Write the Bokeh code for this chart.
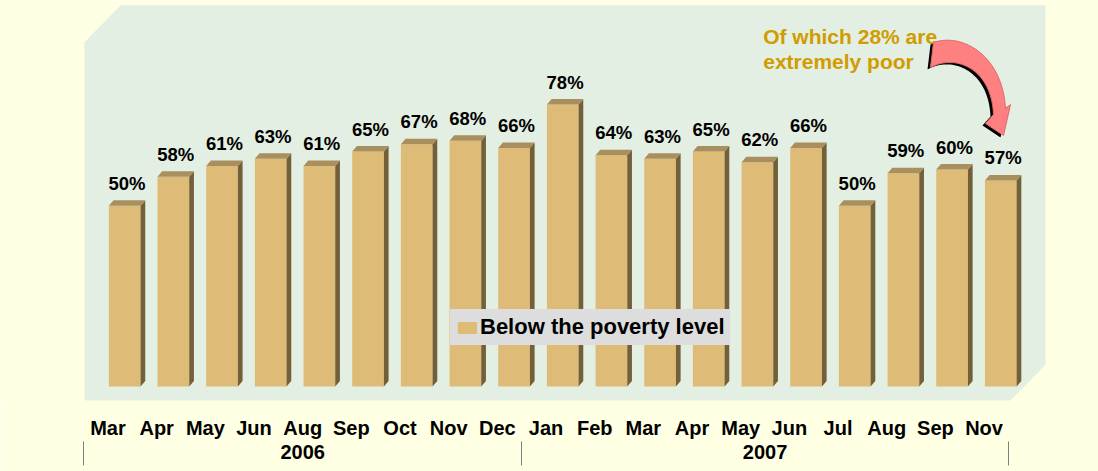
import numpy as np
from bokeh.plotting import figure
from bokeh.models import Range1d, FixedTicker, LinearAxis, Legend, LegendItem
from bokeh.core.properties import value
from bokeh.embed import file_html
from bokeh.resources import INLINE

# ---------------- data ----------------
months = ["Mar", "Apr", "May", "Jun", "Aug", "Sep", "Oct", "Nov", "Dec",
          "Jan", "Feb", "Mar", "Apr", "May", "Jun", "Jul", "Aug", "Sep", "Nov"]
years = ["2006", "2007"]
year_counts = [9, 10]
poverty = [50, 58, 61, 63, 61, 65, 67, 68, 66, 78, 64, 63, 65, 62, 66, 50, 59, 60, 57]
series_name = "Below the poverty level"
annotation = ["Of which 28% are", "extremely poor"]

# ---------------- layout helpers (canvas pixels -> data) ----------------
X0_PX, STEP_PX = 124.2, 48.67
Y0_PX, PX_PER_PCT = 386.0, 3.615
W, H = 1098, 471
FRAME_BOTTOM_PX = 400.0
TEXT_SHIFT = 7.5   # px correction for the svg text baseline


def px2x(px):
    return (px - X0_PX) / STEP_PX


def py2y(py):
    return (Y0_PX - py) / PX_PER_PCT


FONT = "Liberation Sans"
BG = "#FFFFE3"
WALL = "#E3EFE2"
FRONT = "#DEBB77"
SIDE = "#736039"
TOP = "#A98F5D"

p = figure(width=W, height=H, output_backend="svg", toolbar_location=None,
           x_range=Range1d(px2x(0), px2x(W)),
           y_range=Range1d(py2y(FRAME_BOTTOM_PX), py2y(0)),
           y_axis_location=None, min_border_left=0, min_border_right=0,
           min_border_top=0, min_border_bottom=int(H - FRAME_BOTTOM_PX))
p.background_fill_color = BG
p.border_fill_color = BG
p.outline_line_color = None
p.xgrid.visible = False
p.ygrid.visible = False

# back wall / floor of the 3-D box
wall_px = [(84, 41.7), (120, 4.7), (1045, 4.7), (1045, 364.3),
           (1009.3, 400.7), (84, 400.7)]
p.patch([px2x(a) for a, b in wall_px], [py2y(b) for a, b in wall_px],
        fill_color=WALL, line_color=None)

# ---------------- bars ----------------
n = len(poverty)
xs = np.arange(n, dtype=float)
vals = np.array(poverty, dtype=float)
half = 31.7 / STEP_PX / 2
ddx = 4.7 / STEP_PX
ddy = 5.5 / PX_PER_PCT

front = p.quad(left=xs - half, right=xs + half, bottom=0, top=vals,
               fill_color=FRONT, line_color=None)
side_x = [[x + half, x + half + ddx, x + half + ddx, x + half] for x in xs]
side_y = [[0, ddy, v + ddy, v] for v in vals]
p.patches(side_x, side_y, fill_color=SIDE, line_color=None)
top_x = [[x - half, x + half, x + half + ddx, x - half + ddx] for x in xs]
top_y = [[v, v, v + ddy, v + ddy] for v in vals]
p.patches(top_x, top_y, fill_color=TOP, line_color=None)

p.text(x=xs + ddx / 2, y=vals + (15 + TEXT_SHIFT) / PX_PER_PCT,
       text=[f"{v}%" for v in poverty],
       text_font=value(FONT), text_font_style="bold", text_font_size="18.5px",
       text_align="center", text_baseline="alphabetic", text_color="black")

# ---------------- axes ----------------
label_off = 16.7 / STEP_PX
tick_pos = [round(i - label_off, 4) for i in range(n)]
ax = p.xaxis[0]
ax.ticker = FixedTicker(ticks=tick_pos, minor_ticks=[])
ax.major_label_overrides = {t: m for t, m in zip(tick_pos, months)}
ax.major_label_text_font = FONT
ax.major_label_text_font_style = "bold"
ax.major_label_text_font_size = "20px"
ax.major_label_text_color = "black"
ax.major_tick_line_color = None
ax.minor_tick_line_color = None
ax.axis_line_color = None
ax.major_label_standoff = 10

seps, mids = [], []
start = 0
for c in year_counts:
    a = tick_pos[start] - 0.5
    b = tick_pos[start + c - 1] + 0.5
    if not seps:
        seps.append(round(a, 4))
    seps.append(round(b, 4))
    mids.append(round((a + b) / 2, 4))
    start += c
yax = LinearAxis(ticker=FixedTicker(ticks=mids, minor_ticks=seps))
yax.major_label_overrides = {t: y for t, y in zip(mids, years)}
yax.major_label_text_font = FONT
yax.major_label_text_font_style = "bold"
yax.major_label_text_font_size = "20px"
yax.major_label_text_color = "black"
yax.major_tick_line_color = None
yax.major_tick_out = 0
yax.minor_tick_in = 0
yax.minor_tick_out = 24
yax.minor_tick_line_color = "#808080"
yax.minor_tick_line_width = 1
yax.axis_line_color = None
yax.major_label_standoff = -21
p.add_layout(yax, "below")

# ---------------- legend ----------------
legend = Legend(items=[LegendItem(label=series_name, renderers=[front])],
                location=(450, int(FRAME_BOTTOM_PX - 345)), orientation="vertical",
                margin=0, padding=4, glyph_width=24, glyph_height=15,
                label_height=20, label_standoff=1,
                border_line_color="#DDDDDD", border_line_width=1,
                background_fill_color="#DDDDDD", background_fill_alpha=1.0,
                label_text_font=FONT, label_text_font_style="bold",
                label_text_font_size="22px", label_text_color="black")
p.add_layout(legend, "center")

# ---------------- annotation text ----------------
p.text(x=[px2x(762.7)] * 2, y=[py2y(43.3 - TEXT_SHIFT), py2y(68.3 - TEXT_SHIFT)],
       text=annotation,
       text_font=value(FONT), text_font_style="bold", text_font_size="21px",
       text_align="left", text_baseline="alphabetic", text_color="#D09C00")

# ---------------- curved arrow ----------------
def bez(p0, p1, p2, p3, k=40):
    t = np.linspace(0, 1, k)[:, None]
    p0, p1, p2, p3 = map(np.array, (p0, p1, p2, p3))
    return (1 - t) ** 3 * p0 + 3 * (1 - t) ** 2 * t * p1 + 3 * (1 - t) * t ** 2 * p2 + t ** 3 * p3

outer = bez((933, 42), (962, 32), (1002, 55), (1005, 108))
inner = bez((930, 67), (955, 53), (991, 68), (993, 114))
head = np.array([(1010, 104), (1003, 135), (985, 123)])
arrow = np.vstack([outer, head, inner[::-1]])


def draw_arrow(off_x, off_y, color, line):
    p.patch([px2x(a + off_x) for a in arrow[:, 0]],
            [py2y(b + off_y) for b in arrow[:, 1]],
            fill_color=color, line_color=line, line_width=1)

draw_arrow(-3, 2, "black", None)
draw_arrow(0, 0, "#FF8080", "#E06A6A")

open("out.html", "w").write(file_html(p, INLINE))
